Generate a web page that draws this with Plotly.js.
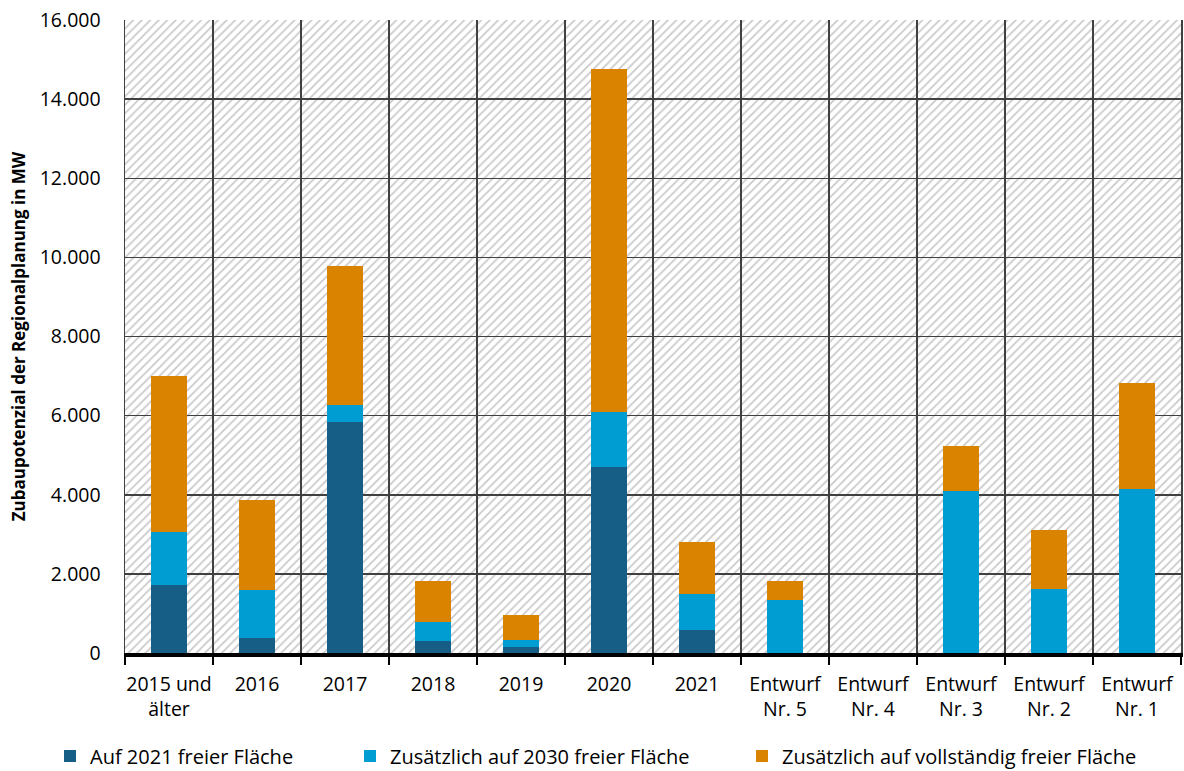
<!DOCTYPE html>
<html>
<head>
<meta charset="utf-8">
<script src="https://cdn.plot.ly/plotly-3.0.1.min.js"></script>
<style>
  html, body { margin: 0; padding: 0; background: #ffffff; }
  #chart { width: 1184px; height: 771px; }
</style>
</head>
<body>
<div id="chart"></div>
<script>
// Zubaupotenzial der Regionalplanung (MW) nach Planstand
const categories = [
  '2015 und<br>älter', '2016', '2017', '2018', '2019', '2020', '2021',
  'Entwurf<br>Nr. 5', 'Entwurf<br>Nr. 4', 'Entwurf<br>Nr. 3', 'Entwurf<br>Nr. 2', 'Entwurf<br>Nr. 1'
];
const seriesNames = [
  'Auf 2021 freier Fläche',
  'Zusätzlich auf 2030 freier Fläche',
  'Zusätzlich auf vollständig freier Fläche'
];
const frei2021     = [1720, 390, 5850, 310, 160, 4690, 590, 0, 0, 0, 0, 0];
const frei2030     = [1330, 1200, 420, 480, 175, 1400, 900, 1350, 0, 4095, 1625, 4140];
const vollstaendig = [3960, 2285, 3520, 1040, 633, 8665, 1310, 462, 0, 1145, 1484, 2677];
const yTicks = [0, 2000, 4000, 6000, 8000, 10000, 12000, 14000, 16000];

const colors = ['#165E86', '#009DD3', '#D98300'];
const font = 'Open Sans, Noto Sans, sans-serif';

// hatched plot background, on its own subplot below the data subplot
const hatch = {
  type: 'bar', x: [0.5], y: [1], width: [1],
  xaxis: 'x', yaxis: 'y',
  marker: {
    color: '#ffffff',
    line: { width: 0 },
    pattern: { shape: '/', fgcolor: '#c8c8c8', bgcolor: '#ffffff', size: 6, solidity: 0.27 }
  },
  hoverinfo: 'skip', showlegend: false
};

const series = [frei2021, frei2030, vollstaendig].map((vals, i) => ({
  type: 'bar',
  name: seriesNames[i],
  x: categories,
  y: vals,
  xaxis: 'x2', yaxis: 'y2',
  legend: i === 0 ? 'legend' : 'legend' + (i + 1),
  marker: { color: colors[i], line: { width: 0 } }
}));

// legends sit in the bottom strip, positioned in container coordinates
const legendBase = {
  orientation: 'h', yref: 'container', yanchor: 'middle', y: 1 - 756 / 771, xanchor: 'left',
  font: { family: font, size: 20, color: '#000' },
  bgcolor: 'rgba(0,0,0,0)', itemwidth: 30, traceorder: 'normal'
};

const layout = {
  width: 1184, height: 771,
  margin: { l: 125, r: 3, t: 20, b: 118, autoexpand: false },
  paper_bgcolor: '#ffffff',
  plot_bgcolor: 'rgba(0,0,0,0)',
  barmode: 'stack',
  bargap: 0.6,
  separators: ',.',
  font: { family: font, size: 19, color: '#000' },
  xaxis: { range: [0, 1], visible: false, fixedrange: true },
  yaxis: { range: [0, 1], visible: false, fixedrange: true },
  xaxis2: {
    anchor: 'y2', type: 'category',
    automargin: false,
    tickangle: 0,
    tickson: 'boundaries',
    showgrid: true, gridcolor: '#404040', gridwidth: 1.5,
    showline: true, linecolor: '#000', linewidth: 3.5,
    ticks: 'outside', ticklen: 8, tickwidth: 2.5, tickcolor: '#000',
    ticklabelstandoff: 11,
    tickfont: { family: font, size: 19.5, color: '#000' },
    fixedrange: true
  },
  yaxis2: {
    anchor: 'x2', range: [0, 16000],
    automargin: false,
    tickvals: yTicks, tickformat: ',d',
    showgrid: true, gridcolor: '#404040', gridwidth: 1.5,
    showline: true, mirror: true, linecolor: '#404040', linewidth: 1.5,
    zeroline: false, ticks: '',
    ticklabelstandoff: 19,
    tickfont: { family: font, size: 19.5, color: '#000' },
    title: {
      text: 'Zubaupotenzial der Regionalplanung in MW',
      font: { family: font, size: 17, color: '#000', weight: 'bold' },
      standoff: 10
    },
    fixedrange: true
  },
  legend:  Object.assign({}, legendBase, { x: (50 - 125) / 1056 }),
  legend2: Object.assign({}, legendBase, { x: (350 - 125) / 1056 }),
  legend3: Object.assign({}, legendBase, { x: (742 - 125) / 1056 }),
  showlegend: true
};

Plotly.newPlot('chart', [hatch].concat(series), layout, { displayModeBar: false, staticPlot: true });
</script>
</body>
</html>
